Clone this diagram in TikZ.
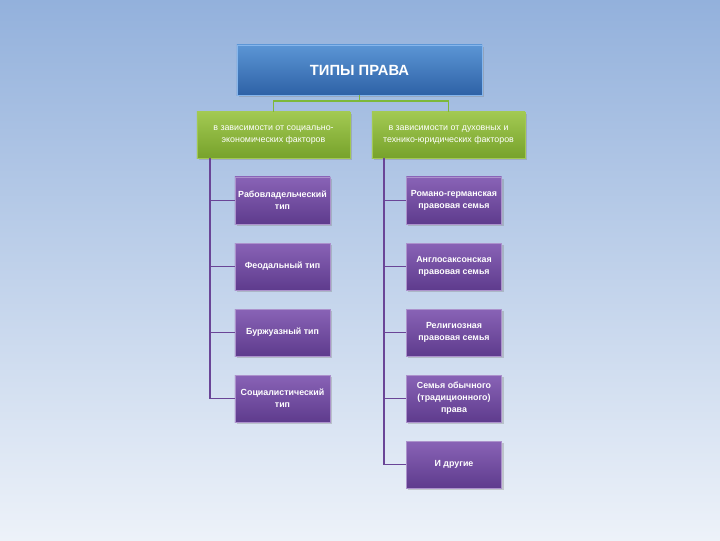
\documentclass[tikz,border=0pt]{standalone}
\usepackage{fontspec}
\setmainfont{Liberation Sans}
\usetikzlibrary{shadows}

\definecolor{bgtop}{HTML}{93B1DC}
\definecolor{bgbot}{HTML}{EDF2F9}
\definecolor{bluetop}{HTML}{5B95D5}
\definecolor{bluebot}{HTML}{2E62A6}
\definecolor{blueedge}{HTML}{86B6EC}
\definecolor{greentop}{HTML}{A2C952}
\definecolor{greenbot}{HTML}{77A22B}
\definecolor{greenline}{HTML}{7DB83A}
\definecolor{purptop}{HTML}{8963B6}
\definecolor{purpbot}{HTML}{5E3B8D}
\definecolor{purpline}{HTML}{6A4597}

\tikzset{
  boxbase/.style={rectangle, align=center, text=white, inner sep=1pt,
    drop shadow={opacity=0.35, shadow xshift=0.5mm, shadow yshift=-0.5mm}},
  titlebox/.style={boxbase, top color=bluetop, bottom color=bluebot, draw=blueedge,
    minimum width=6.125cm, minimum height=1.25cm, font=\fontsize{10.5}{12}\selectfont\bfseries},
  groupbox/.style={boxbase, top color=greentop, bottom color=greenbot, draw=greentop,
    minimum width=3.825cm, minimum height=1.15cm, font=\fontsize{6.3}{8.5}\selectfont},
  typebox/.style={boxbase, top color=purptop, bottom color=purpbot, draw=purptop!70!white,
    minimum width=2.375cm, minimum height=1.175cm, font=\fontsize{6.3}{8.5}\selectfont\bfseries},
  gline/.style={draw=greenline, line width=1.3pt},
  pline/.style={draw=purpline, line width=1.3pt}
}

\begin{document}
\begin{tikzpicture}[x=0.025cm,y=-0.025cm]

% background
\shade[top color=bgtop, bottom color=bgbot] (0,0) rectangle (720,540);

% title
\node[titlebox] (title) at (359.5,70) {ТИПЫ ПРАВА};

% two groups
\node[groupbox] (left) at (273.5,135) {в зависимости от социально-\\экономических факторов};
\node[groupbox] (right) at (448.5,135) {в зависимости от духовных и\\технико-юридических факторов};

% left column
\node[typebox] (l1) at (282.5,200.5) {Рабовладельческий\\тип};
\node[typebox] (l2) at (282.5,266.5) {Феодальный тип};
\node[typebox] (l3) at (282.5,332.5) {Буржуазный тип};
\node[typebox] (l4) at (282.5,398.5) {Социалистический\\тип};

% right column
\node[typebox] (r1) at (454,200.5) {Романо-германская\\правовая семья};
\node[typebox] (r2) at (454,266.5) {Англосаксонская\\правовая семья};
\node[typebox] (r3) at (454,332.5) {Религиозная\\правовая семья};
\node[typebox] (r4) at (454,398.5) {Семья обычного\\(традиционного)\\права};
\node[typebox] (r5) at (454,464.5) {И другие};

% connectors
\draw[gline] (title.south) -- ++(0,6) -| (left.north);
\draw[gline] (title.south) -- ++(0,6) -| (right.north);

\foreach \n in {l1,l2,l3,l4}
  \draw[pline] ([xshift=0.325cm]left.south west) |- (\n.west);
\foreach \n in {r1,r2,r3,r4,r5}
  \draw[pline] ([xshift=0.3cm]right.south west) |- (\n.west);

\end{tikzpicture}
\end{document}
